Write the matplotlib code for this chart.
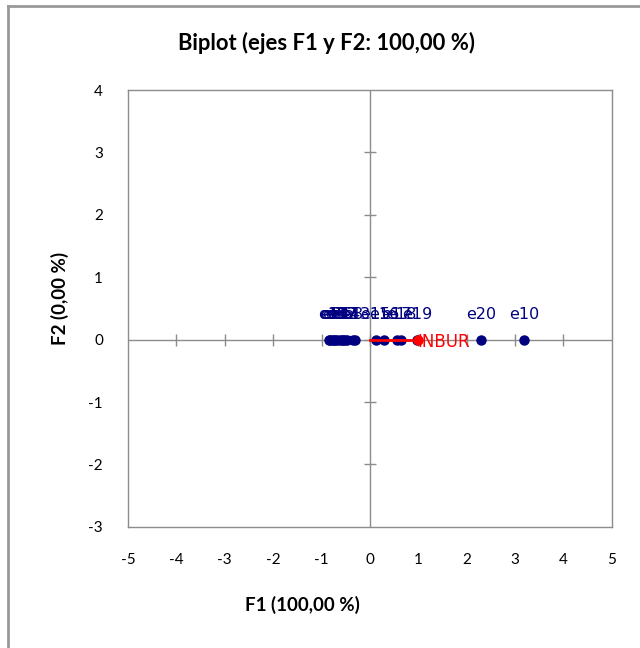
import matplotlib
matplotlib.use('Agg')
import matplotlib.pyplot as plt
from matplotlib.lines import Line2D

# observaciones (F1, F2)
obs = ['e1', 'e2', 'e3', 'e4', 'e5', 'e6', 'e7', 'e8', 'e9', 'e10',
       'e11', 'e12', 'e13', 'e14', 'e15', 'e16', 'e17', 'e18', 'e19', 'e20']
f1 = [-0.85, -0.78, -0.72, -0.62, -0.55, -0.82, -0.48, -0.35, -0.68, 3.18,
      -0.75, -0.58, -0.30, -0.52, 0.12, 0.30, 0.55, 0.65, 0.98, 2.30]
f2 = [0.0] * len(obs)

# variable
var_name = 'INBUR'
var_f1 = 0.99
var_f2 = 0.0

xticks = list(range(-5, 6))
yticks = list(range(-3, 5))

plt.rcParams['font.family'] = ['Lato', 'DejaVu Sans']
plt.rcParams['axes.unicode_minus'] = False

fig = plt.figure(figsize=(6.4, 6.48), dpi=100)
ax = fig.add_axes([0.2, 0.187, 0.756, 0.674])

gris = '#8c8c8c'
ax.axhline(0, color=gris, lw=1, zorder=1)
ax.axvline(0, color=gris, lw=1, zorder=1)
ax.plot(xticks[1:-1], [0] * (len(xticks) - 2), ls='', marker='|', ms=9, color=gris, zorder=1)
ax.plot([0] * (len(yticks) - 2), yticks[1:-1], ls='', marker='_', ms=9, color=gris, zorder=1)

ax.plot(f1, f2, ls='', marker='o', ms=6.5, color='#000080', zorder=3)
for n, x, y in zip(obs, f1, f2):
    ax.text(x, y + 0.4, n, color='#000080', fontsize=11.5, ha='center', va='center',
            family='DejaVu Sans', zorder=4)

ax.plot([0, var_f1], [0, var_f2], color='red', lw=2, zorder=4)
ax.plot([var_f1], [var_f2], ls='', marker='o', ms=6.5, color='red', zorder=5)
ax.text(var_f1, var_f2 - 0.04, var_name, color='red', fontsize=12, ha='left', va='center',
        family='DejaVu Sans', zorder=5)

ax.set_xlim(-5, 5)
ax.set_ylim(-3, 4)
ax.set_xticks(xticks)
ax.set_yticks(yticks)
ax.tick_params(length=0, labelsize=11)
ax.tick_params(axis='x', pad=19)
ax.tick_params(axis='y', pad=18)
for s in ax.spines.values():
    s.set_color(gris)
    s.set_linewidth(1)

fig.text(327 / 640, 1 - 43 / 648, 'Biplot (ejes F1 y F2: 100,00 %)', fontsize=15.8,
         fontweight='bold', ha='center', va='center')
fig.text(302 / 640, 1 - 605 / 648, 'F1 (100,00 %)', fontsize=13.5,
         fontweight='bold', ha='center', va='center')
fig.text(60 / 640, 1 - 298 / 648, 'F2 (0,00 %)', fontsize=13.5, rotation=90,
         fontweight='bold', ha='center', va='center')

# marco exterior
fig.add_artist(Line2D([8 / 640, 8 / 640], [0, 1 - 6 / 648], color='#999999', lw=2))
fig.add_artist(Line2D([8 / 640, 1], [1 - 6 / 648, 1 - 6 / 648], color='#999999', lw=2))

fig.savefig('out.png', dpi=100)
